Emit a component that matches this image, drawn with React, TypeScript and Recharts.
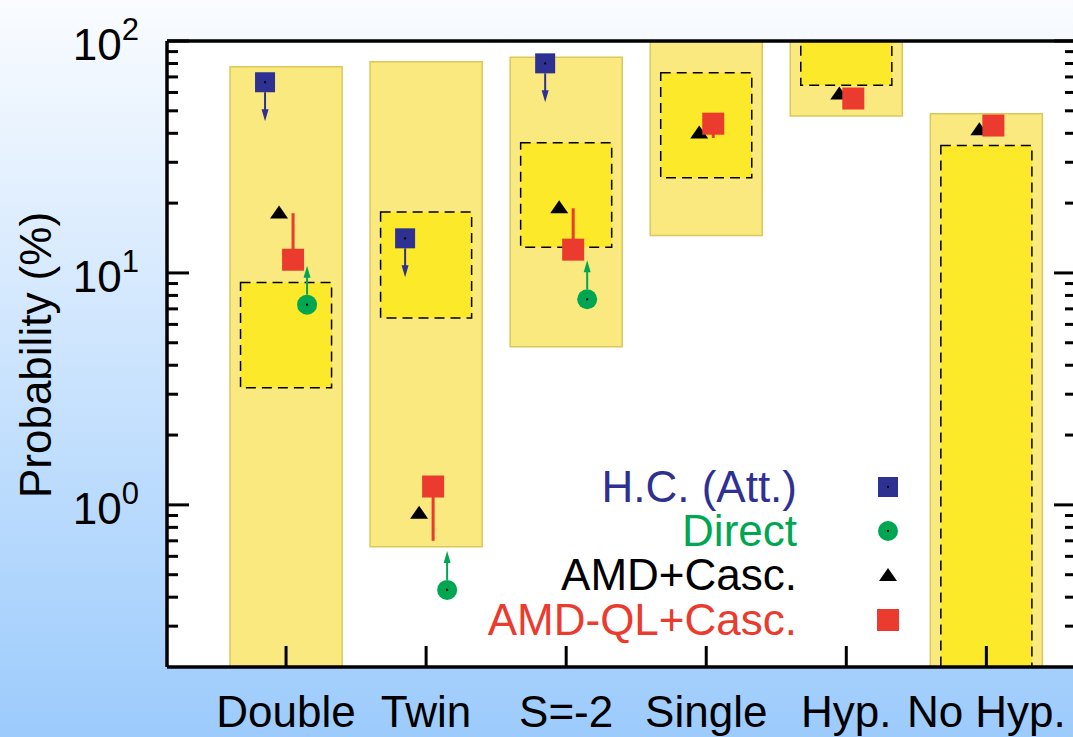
import React from "react";
import {
  CartesianGrid,
  ComposedChart,
  ErrorBar,
  ReferenceArea,
  ReferenceLine,
  Scatter,
  XAxis,
  YAxis,
} from "recharts";

// categories and box ranges (probability, %)
const categories = ["Double", "Twin", "S=-2", "Single", "Hyp.", "No Hyp."];
const outerLow = [0.2, 0.66, 4.8, 14.5, 47.5, 0.2];
const outerHigh = [77.5, 81.4, 85, 100, 100, 48.6];
const innerLow = [3.2, 6.4, 12.9, 25.7, 64.4, 0.2];
const innerHigh = [9.1, 18.3, 36.4, 73, 100, 35.4];

// model / data points
const hcValues = [66.4, 14.1, 80.1, null, null, null];
const directValues = [7.3, 0.43, 7.7, null, null, null];
const amdValues = [18.3, 0.93, 19.3, 40.5, 59.7, 41.8];
const amdqlValues = [11.4, 1.2, 12.6, 44.0, 56.5, 43.2];
const amdqlErrTo = [18.1, 0.7, 19.0, 38.2, null, null];

const yTicks = [
  0.3, 0.4, 0.5, 0.6, 0.7, 0.8, 0.9, 1, 2, 3, 4, 5, 6, 7, 8, 9, 10, 20, 30,
  40, 50, 60, 70, 80, 90, 100,
];

const BLUE = "#2e3192";
const GREEN = "#00a651";
const RED = "#ea3b2e";
const FONT = "'Liberation Sans', Arial, sans-serif";

const toPoints = (vals: (number | null)[], off: number) =>
  vals
    .map((v, i) => (v == null ? null : { x: i + 1 + off, y: v }))
    .filter((p) => p !== null) as { x: number; y: number }[];

const hcData = toPoints(hcValues, -0.15);
const directData = toPoints(directValues, 0.15);
const amdData = toPoints(amdValues, -0.05);
const amdqlData = amdqlValues.map((v, i) => {
  const to = amdqlErrTo[i];
  const err =
    to == null ? [0, 0] : to > v ? [0, to - v] : [v - to, 0];
  return { x: i + 1.05, y: v, err };
});

const isMajor = (v: number) => {
  const l = Math.log10(v);
  return Math.abs(l - Math.round(l)) < 1e-6;
};

const LeftTick = (props: any) => {
  const { x, y, payload } = props;
  const v = payload.value;
  const major = isMajor(v);
  return (
    <g>
      <line x1={x} x2={x + (major ? 22 : 11)} y1={y} y2={y} stroke="#000" strokeWidth={3} />
      {major && (
        <text x={x - 28} y={y + 19} textAnchor="end" fontSize={44} fontFamily={FONT} fill="#000">
          10
          <tspan dy={-20} fontSize={31}>
            {Math.round(Math.log10(v))}
          </tspan>
        </text>
      )}
    </g>
  );
};

const RightTick = (props: any) => {
  const { x, y, payload } = props;
  const major = isMajor(payload.value);
  return <line x1={x - (major ? 22 : 11)} x2={x} y1={y} y2={y} stroke="#000" strokeWidth={3} />;
};

const BottomTick = (props: any) => {
  const { x, y, payload } = props;
  return (
    <g>
      <line x1={x} x2={x} y1={y} y2={y - 21} stroke="#000" strokeWidth={3} />
      <text x={x} y={y + 60} textAnchor="middle" fontSize={44} fontFamily={FONT} fill="#000">
        {categories[Math.round(payload.value) - 1]}
      </text>
    </g>
  );
};

const HcShape = (props: any) => {
  const { cx, cy } = props;
  return (
    <g>
      <line x1={cx} x2={cx} y1={cy + 10} y2={cy + 29} stroke={BLUE} strokeWidth={2} />
      <path d={`M${cx - 3.5},${cy + 27} L${cx + 3.5},${cy + 27} L${cx},${cy + 39} Z`} fill={BLUE} />
      <rect x={cx - 10} y={cy - 10} width={20} height={20} fill={BLUE} />
      <rect x={cx - 1} y={cy - 1} width={2} height={2} fill="#000" />
    </g>
  );
};

const DirectShape = (props: any) => {
  const { cx, cy } = props;
  return (
    <g>
      <line x1={cx} x2={cx} y1={cy - 10} y2={cy - 29} stroke={GREEN} strokeWidth={2} />
      <path d={`M${cx - 3.5},${cy - 27} L${cx + 3.5},${cy - 27} L${cx},${cy - 39} Z`} fill={GREEN} />
      <circle cx={cx} cy={cy} r={10} fill={GREEN} />
      <rect x={cx - 1} y={cy - 1} width={2} height={2} fill="#000" />
    </g>
  );
};

const AmdShape = (props: any) => {
  const { cx, cy } = props;
  return <path d={`M${cx},${cy - 6.5} L${cx + 9},${cy + 6.5} L${cx - 9},${cy + 6.5} Z`} fill="#000" />;
};

const AmdqlShape = (props: any) => {
  const { cx, cy } = props;
  return <rect x={cx - 11} y={cy - 11} width={22} height={22} fill={RED} />;
};

const legendItems = [
  { label: "H.C. (Att.)", color: BLUE, y: 502, sym: "hc" },
  { label: "Direct", color: GREEN, y: 546, sym: "direct" },
  { label: "AMD+Casc.", color: "#000", y: 590, sym: "amd" },
  { label: "AMD-QL+Casc.", color: RED, y: 635, sym: "amdql" },
];

const Overlay = () => (
  <svg
    width={1073}
    height={737}
    style={{ position: "absolute", left: 0, top: 0, pointerEvents: "none" }}
  >
    <text
      x={51}
      y={355}
      transform="rotate(-90, 51, 355)"
      textAnchor="middle"
      fontSize={44}
      fontFamily={FONT}
      fill="#000"
    >
      Probability (%)
    </text>
    {legendItems.map((it) => {
      const cx = 888;
      const cy = it.y - 15;
      return (
        <g key={it.label}>
          <text x={797} y={it.y} textAnchor="end" fontSize={44} fontFamily={FONT} fill={it.color}>
            {it.label}
          </text>
          {it.sym === "hc" && (
            <g>
              <rect x={cx - 10} y={cy - 10} width={20} height={20} fill={BLUE} />
              <rect x={cx - 1} y={cy - 1} width={2} height={2} fill="#000" />
            </g>
          )}
          {it.sym === "direct" && (
            <g>
              <circle cx={cx} cy={cy} r={10} fill={GREEN} />
              <rect x={cx - 1} y={cy - 1} width={2} height={2} fill="#000" />
            </g>
          )}
          {it.sym === "amd" && (
            <path d={`M${cx},${cy - 7} L${cx + 9},${cy + 6} L${cx - 9},${cy + 6} Z`} fill="#000" />
          )}
          {it.sym === "amdql" && <rect x={cx - 11} y={cy - 11} width={22} height={22} fill={RED} />}
        </g>
      );
    })}
  </svg>
);

export default function App() {
  return (
    <div
      style={{
        position: "absolute",
        left: 0,
        top: 0,
        width: 1073,
        height: 737,
        overflow: "hidden",
        background: "linear-gradient(to bottom, #fafcff 0%, #9ccbfc 100%)",
      }}
    >
      <ComposedChart
        width={1100}
        height={737}
        margin={{ top: 41, right: 0, bottom: 40, left: 107 }}
      >
        <CartesianGrid fill="#ffffff" horizontal={false} vertical={false} />
        <XAxis
          type="number"
          dataKey="x"
          domain={[0.15, 6.64]}
          ticks={[1, 2, 3, 4, 5, 6]}
          interval={0}
          allowDataOverflow
          height={30}
          tickSize={0}
          tickMargin={0}
          tickLine={false}
          tick={<BottomTick />}
          axisLine={{ stroke: "#000", strokeWidth: 3.5 }}
        />
        <YAxis
          type="number"
          dataKey="y"
          scale="log"
          domain={[0.2, 100]}
          allowDataOverflow
          ticks={yTicks}
          interval={0}
          width={60}
          tickSize={0}
          tickMargin={0}
          tickLine={false}
          tick={<LeftTick />}
          axisLine={{ stroke: "#000", strokeWidth: 3.5 }}
        />
        <YAxis
          yAxisId="r"
          orientation="right"
          type="number"
          scale="log"
          domain={[0.2, 100]}
          allowDataOverflow
          ticks={yTicks}
          interval={0}
          width={24}
          tickSize={0}
          tickMargin={0}
          tickLine={false}
          tick={<RightTick />}
          axisLine={{ stroke: "#000", strokeWidth: 3.5 }}
        />
        {categories.map((c, i) => (
          <ReferenceArea
            key={`o-${c}`}
            x1={i + 1 - 0.4}
            x2={i + 1 + 0.4}
            y1={outerLow[i]}
            y2={outerHigh[i]}
            ifOverflow="hidden"
            fill="#fae97e"
            fillOpacity={1}
            stroke="#dcc75c"
            strokeWidth={1.5}
          />
        ))}
        {categories.map((c, i) => (
          <ReferenceArea
            key={`i-${c}`}
            x1={i + 1 - 0.325}
            x2={i + 1 + 0.325}
            y1={innerLow[i]}
            y2={innerHigh[i]}
            ifOverflow="hidden"
            fill="#fce92a"
            fillOpacity={1}
            stroke="#000"
            strokeWidth={1.5}
            strokeDasharray="10 6"
          />
        ))}
        <ReferenceLine y={100} stroke="#000" strokeWidth={3.5} />
        <Scatter data={hcData} dataKey="y" shape={<HcShape />} isAnimationActive={false} />
        <Scatter data={directData} dataKey="y" shape={<DirectShape />} isAnimationActive={false} />
        <Scatter data={amdData} dataKey="y" shape={<AmdShape />} isAnimationActive={false} />
        <Scatter data={amdqlData} dataKey="y" shape={<AmdqlShape />} isAnimationActive={false}>
          <ErrorBar dataKey="err" direction="y" width={0} stroke={RED} strokeWidth={3} />
        </Scatter>
      </ComposedChart>
      <Overlay />
    </div>
  );
}
